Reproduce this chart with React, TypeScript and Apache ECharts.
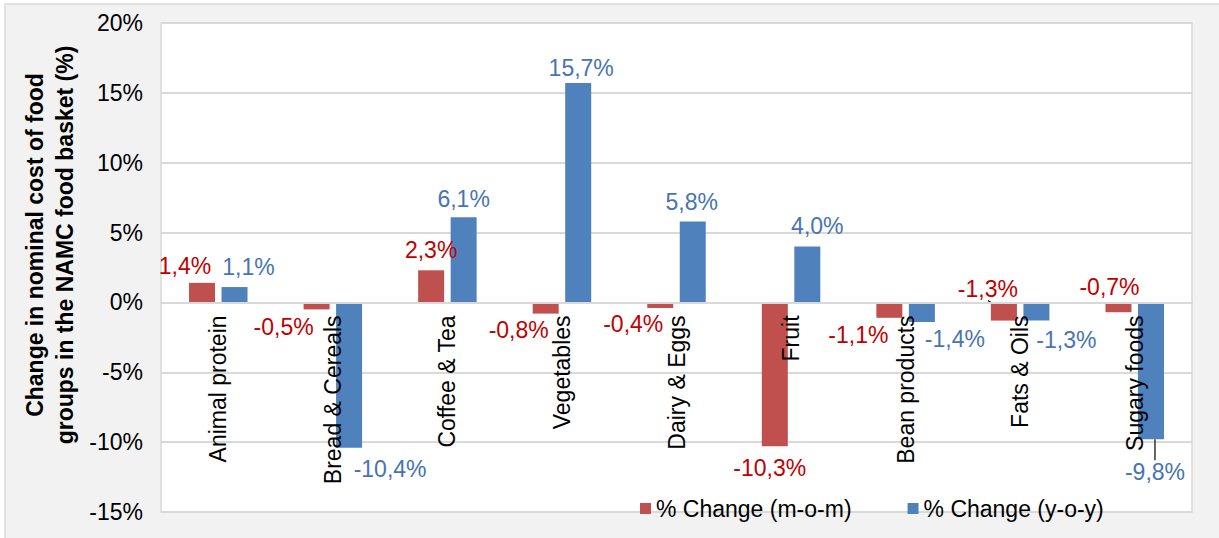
import React, { useEffect, useRef } from "react";
import * as echarts from "echarts";

const categories = [
  "Animal protein",
  "Bread & Cereals",
  "Coffee & Tea",
  "Vegetables",
  "Dairy & Eggs",
  "Fruit",
  "Bean products",
  "Fats & Oils",
  "Sugary foods",
];
const momValues = [1.4, -0.5, 2.3, -0.8, -0.4, -10.3, -1.1, -1.3, -0.7];
const yoyValues = [1.1, -10.4, 6.1, 15.7, 5.8, 4.0, -1.4, -1.3, -9.8];
const seriesNames = ["% Change (m-o-m)", "% Change (y-o-y)"];
const yMin = -15;
const yMax = 20;
const yStep = 5;

const FONT = "'Liberation Sans', Arial, sans-serif";
const FS = 23;
const W = 1219;
const H = 538;
const GRID = { left: 161, right: 27, top: 23, bottom: 26 };

export default function App() {
  const ref = useRef<HTMLDivElement>(null);

  useEffect(() => {
    if (!ref.current) return;
    const chart = echarts.init(ref.current, undefined, { renderer: "svg" });

    // label shifts relative to the 'outside' position (layout only)
    const momShift: number[][] = [
      [-17, 0], [-33, 1], [0, -4], [-27, 0], [-27, -1], [-5, 5], [-31, 1], [-16, -48], [-9, -42],
    ];
    const yoyShift: number[][] = [
      [14, -4], [41, 5], [0, -2], [3, 1], [-1, -3], [10, -4], [33, 1], [30, 3], [4, 16],
    ];
    const momLine = [7];
    const yoyLine = [8];

    const fmt = (p: any) => {
      const v = Number(p.value);
      return v.toFixed(1).replace(".", ",") + "%";
    };

    const makeData = (vals: number[], lines: number[]) =>
      vals.map((v, i) =>
        lines.includes(i)
          ? { value: v, labelLine: { show: true, lineStyle: { color: "#000", width: 1.2 } } }
          : { value: v }
      );

    // move the category axis (with its labels) up to the zero line
    const gridH = H - GRID.top - GRID.bottom;
    const zeroOffset = -gridH * (0 - yMin) / (yMax - yMin);

    const option: any = {
      animation: false,
      textStyle: { fontFamily: FONT },
      grid: {
        ...GRID,
        outerBoundsMode: "none",
        containLabel: false,
        show: true,
        backgroundColor: "#ffffff",
        borderColor: "#d9d9d9",
        borderWidth: 1.5,
      },
      graphic: [
        {
          type: "rect",
          z: -100,
          shape: { x: 5, y: 4, width: 1230, height: 550 },
          style: { fill: "#f2f2f2", stroke: "#d9d9d9", lineWidth: 1.5 },
        },
        {
          type: "text",
          z: 100,
          x: 50,
          y: 245,
          rotation: Math.PI / 2,
          style: {
            text: "Change in nominal cost of food\ngroups in the NAMC food basket (%)",
            fontSize: FS,
            fontWeight: "bold",
            fontFamily: FONT,
            fill: "#000",
            align: "center",
            verticalAlign: "middle",
            lineHeight: 30,
          },
        },
      ],
      legend: {
        data: seriesNames,
        left: 635,
        top: 492,
        icon: "rect",
        itemWidth: 11,
        itemHeight: 11,
        itemGap: 56,
        textStyle: { fontSize: FS, color: "#000", fontFamily: FONT },
      },
      xAxis: {
        type: "category",
        data: categories,
        z: 10,
        offset: zeroOffset,
        axisLine: { onZero: false, lineStyle: { color: "#d9d9d9", width: 2 } },
        axisTick: { show: false },
        axisLabel: {
          rotate: 90,
          interval: 0,
          margin: 13,
          fontSize: FS,
          color: "#000",
          fontFamily: FONT,
        },
      },
      yAxis: {
        type: "value",
        min: yMin,
        max: yMax,
        interval: yStep,
        axisLine: { show: false },
        axisTick: { show: false },
        axisLabel: {
          formatter: "{value}%",
          fontSize: FS,
          color: "#000",
          margin: 18,
          fontFamily: FONT,
        },
        splitLine: { lineStyle: { color: "#d9d9d9", width: 2 } },
      },
      series: [
        {
          name: seriesNames[0],
          type: "bar",
          data: makeData(momValues, momLine),
          barWidth: 26,
          barGap: "25%",
          itemStyle: { color: "#C0504D" },
          label: {
            show: true,
            position: "outside",
            formatter: fmt,
            fontSize: FS,
            color: "#C00000",
            fontFamily: FONT,
          },
          labelLayout: (p: any) => {
            const s = momShift[p.dataIndex] || [0, 0];
            return { dx: s[0], dy: s[1] };
          },
        },
        {
          name: seriesNames[1],
          type: "bar",
          data: makeData(yoyValues, yoyLine),
          barWidth: 26,
          barGap: "25%",
          itemStyle: { color: "#4F81BD" },
          label: {
            show: true,
            position: "outside",
            formatter: fmt,
            fontSize: FS,
            color: "#4774B2",
            fontFamily: FONT,
          },
          labelLayout: (p: any) => {
            const s = yoyShift[p.dataIndex] || [0, 0];
            return { dx: s[0], dy: s[1] };
          },
        },
      ],
    };

    chart.setOption(option);
    return () => chart.dispose();
  }, []);

  return (
    <div
      ref={ref}
      style={{ position: "absolute", left: 0, top: 0, width: W, height: H, background: "#fff" }}
    />
  );
}
